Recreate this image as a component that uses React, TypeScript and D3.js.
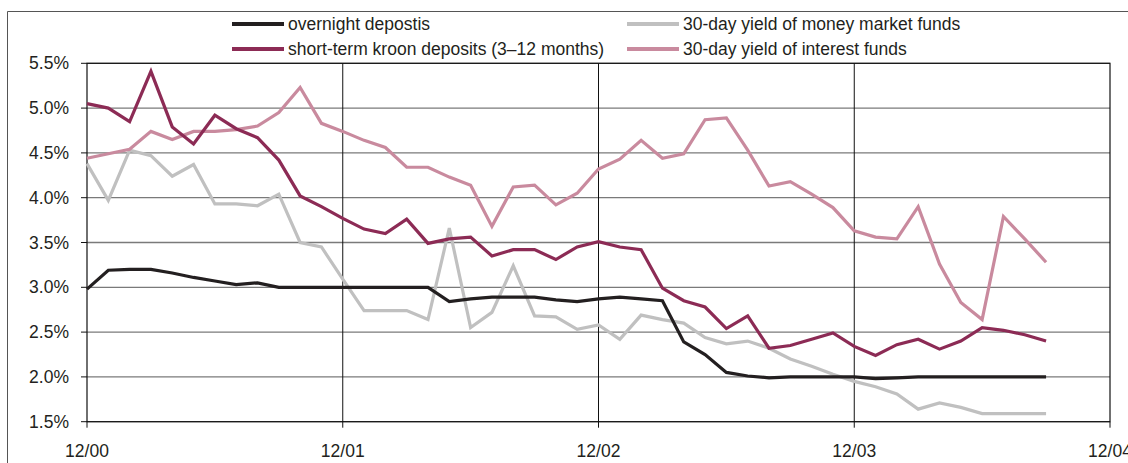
import React from 'react';
import * as d3 from 'd3';

// monthly, 12/2000 .. 9/2004 (index 0 = 12/00)
const overnight = [
  2.98, 3.19, 3.2, 3.2, 3.16, 3.11, 3.07, 3.03, 3.05, 3.0, 3.0, 3.0,
  3.0, 3.0, 3.0, 3.0, 3.0, 2.84, 2.87, 2.89, 2.89, 2.89, 2.86, 2.84,
  2.87, 2.89, 2.87, 2.85, 2.39, 2.25, 2.05, 2.01, 1.99, 2.0, 2.0, 2.0,
  2.0, 1.98, 1.99, 2.0, 2.0, 2.0, 2.0, 2.0, 2.0, 2.0,
];
const shortTerm = [
  5.05, 5.0, 4.85, 5.41, 4.79, 4.6, 4.92, 4.77, 4.67, 4.42, 4.02, 3.9,
  3.77, 3.65, 3.6, 3.76, 3.49, 3.54, 3.56, 3.35, 3.42, 3.42, 3.31, 3.45,
  3.51, 3.45, 3.42, 2.99, 2.85, 2.78, 2.54, 2.68, 2.32, 2.35, 2.42, 2.49,
  2.34, 2.24, 2.36, 2.42, 2.31, 2.4, 2.55, 2.52, 2.47, 2.4,
];
const moneyMarket = [
  4.38, 3.97, 4.53, 4.47, 4.24, 4.37, 3.93, 3.93, 3.91, 4.04, 3.5, 3.45,
  3.09, 2.74, 2.74, 2.74, 2.64, 3.66, 2.55, 2.72, 3.24, 2.68, 2.67, 2.53,
  2.58, 2.42, 2.69, 2.64, 2.6, 2.44, 2.37, 2.4, 2.32, 2.2, 2.12, 2.03,
  1.95, 1.89, 1.81, 1.64, 1.71, 1.66, 1.59, 1.59, 1.59, 1.59,
];
const interest = [
  4.44, 4.49, 4.54, 4.74, 4.65, 4.74, 4.74, 4.76, 4.8, 4.95, 5.23, 4.83,
  4.74, 4.64, 4.56, 4.34, 4.34, 4.23, 4.14, 3.68, 4.12, 4.14, 3.92, 4.05,
  4.32, 4.43, 4.64, 4.44, 4.49, 4.87, 4.89, 4.53, 4.13, 4.18, 4.04, 3.89,
  3.63, 3.56, 3.54, 3.9, 3.26, 2.83, 2.64, 3.79, 3.54, 3.28,
];

const seriesNames = [
  'overnight depostis',
  'short-term kroon deposits (3–12 months)',
  '30-day yield of money market funds',
  '30-day yield of interest funds',
];
const seriesColors = ['#231f20', '#8c2b55', '#c0c0c0', '#c98a9e'];
const yTicks = [1.5, 2.0, 2.5, 3.0, 3.5, 4.0, 4.5, 5.0, 5.5];
const xTickMonths = [0, 12, 24, 36, 48];
const xTickLabels = ['12/00', '12/01', '12/02', '12/03', '12/04'];

const W = 1128;
const H = 463;
const left = 87;
const right = 1110;
const top = 63.3;
const bottom = 421.7;
const font = '"Liberation Sans", Arial, sans-serif';

export default function App() {
  const x = d3.scaleLinear().domain([0, 48]).range([left, right]);
  const y = d3.scaleLinear().domain([1.5, 5.5]).range([bottom, top]);
  const line = d3.line<number>().x((d, i) => x(i)).y(d => y(d));
  const data = [overnight, shortTerm, moneyMarket, interest];
  // drawing order: light ones below
  const order = [2, 3, 0, 1];

  const legendPos = [
    { lx: 232, ly: 24 },
    { lx: 232, ly: 49 },
    { lx: 627, ly: 24 },
    { lx: 627, ly: 49 },
  ];

  return (
    <svg width={W} height={H} style={{ position: 'absolute', left: 0, top: 0, background: '#fff' }}>
      {/* outer frame */}
      <path d={`M7.5,${H} V11.5 H${W}`} fill="none" stroke="#555" strokeWidth={1} />

      {/* horizontal grid */}
      {yTicks.map(t => (
        <line key={t} x1={left} x2={right} y1={y(t)} y2={y(t)} stroke="#7a7a7a" strokeWidth={1.3} />
      ))}
      {/* vertical year lines */}
      {xTickMonths.slice(1, 4).map(m => (
        <line key={m} x1={x(m)} x2={x(m)} y1={top} y2={bottom} stroke="#111" strokeWidth={1} />
      ))}
      {/* plot border */}
      <rect x={left} y={top} width={right - left} height={bottom - top} fill="none" stroke="#111" strokeWidth={1.2} />

      {/* y ticks */}
      {yTicks.map(t => (
        <g key={t}>
          <line x1={left - 6} x2={left} y1={y(t)} y2={y(t)} stroke="#111" strokeWidth={1} />
          <text x={69} y={y(t)} dy="0.35em" textAnchor="end" fontFamily={font} fontSize={17.5} fill="#231f20">
            {t.toFixed(1)}%
          </text>
        </g>
      ))}
      {/* x ticks */}
      {xTickMonths.map((m, i) => (
        <g key={m}>
          <line x1={x(m)} x2={x(m)} y1={bottom} y2={bottom + 6} stroke="#111" strokeWidth={1} />
          <text x={x(m)} y={451} dy="0.35em" textAnchor="middle" fontFamily={font} fontSize={17.5} fill="#231f20">
            {xTickLabels[i]}
          </text>
        </g>
      ))}

      {/* series */}
      {order.map(k => (
        <path key={k} d={line(data[k]) || ''} fill="none" stroke={seriesColors[k]} strokeWidth={3.2} strokeLinejoin="miter" />
      ))}

      {/* legend */}
      {seriesNames.map((n, k) => (
        <g key={n}>
          <line x1={legendPos[k].lx} x2={legendPos[k].lx + 52} y1={legendPos[k].ly} y2={legendPos[k].ly} stroke={seriesColors[k]} strokeWidth={4} />
          <text x={legendPos[k].lx + 56} y={legendPos[k].ly} dy="0.35em" fontFamily={font} fontSize={17.5} fill="#231f20">
            {n}
          </text>
        </g>
      ))}
    </svg>
  );
}
